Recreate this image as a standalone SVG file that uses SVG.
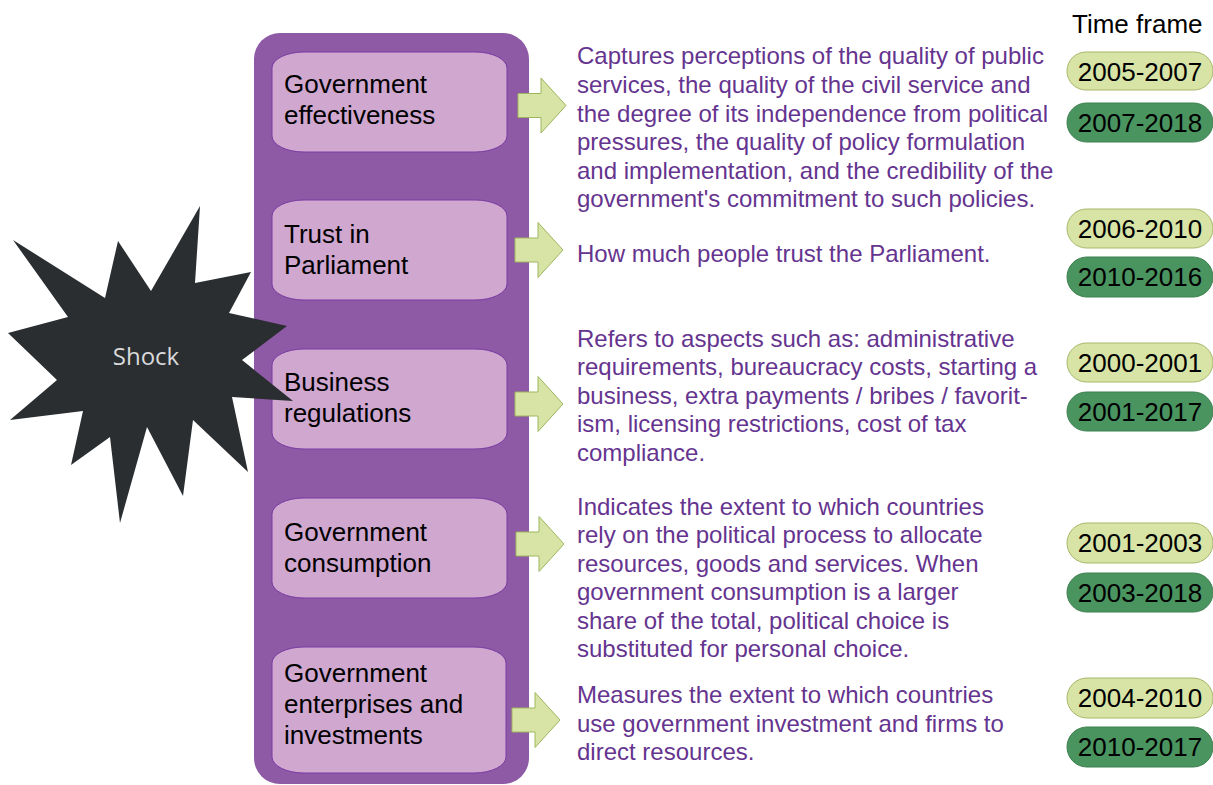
<svg xmlns="http://www.w3.org/2000/svg" width="1213" height="785" viewBox="0 0 1213 785">
  <style>
    .frame { fill: #8e5aa6; }
    .box { fill: #cfa7cf; stroke: #7a3aa3; stroke-width: 1; }
    .lbl { font-family: "Liberation Sans", Arial, sans-serif; font-size: 26px; fill: #000; }
    .desc { font-family: "Liberation Sans", Arial, sans-serif; font-size: 24px; fill: #65348f; }
    .arrow { fill: #d7e4a5; stroke: #9db65c; stroke-width: 1; }
    .pill-l { fill: #d7e4a6; stroke: #a7b769; stroke-width: 1; }
    .pill-d { fill: #4a9460; stroke: #3e8050; stroke-width: 1; }
    .pt { font-family: "Liberation Sans", Arial, sans-serif; font-size: 26px; fill: #000; text-anchor: middle; }
    .star { fill: #2a2e31; }
    .shock { font-family: "Open Sans", "Noto Sans", sans-serif; font-size: 24px; fill: #d9d9d9; text-anchor: middle; }
  </style>
  <defs>
    <!-- block arrow, origin at shaft start / vertical centre -->
    <path id="blockArrow" d="M0,-12 H23 V-27.5 L48,0 L23,27.5 V12 H0 Z"/>
  </defs>

  <!-- purple backing panel -->
  <rect class="frame" x="254" y="33" width="275" height="751" rx="26" ry="26"/>

  <g id="node-effectiveness">
    <rect class="box" x="272" y="52" width="235" height="100" rx="32" ry="16"/>
    <text class="lbl" x="284" y="93">Government</text>
    <text class="lbl" x="284" y="124">effectiveness</text>
  </g>
  <g id="node-trust">
    <rect class="box" x="272" y="200" width="235" height="100" rx="32" ry="16"/>
    <text class="lbl" x="284" y="243">Trust in</text>
    <text class="lbl" x="284" y="274">Parliament</text>
  </g>
  <g id="node-business">
    <rect class="box" x="272" y="349" width="235" height="100" rx="32" ry="16"/>
    <text class="lbl" x="284" y="391">Business</text>
    <text class="lbl" x="284" y="422">regulations</text>
  </g>
  <g id="node-consumption">
    <rect class="box" x="272" y="498" width="235" height="100" rx="32" ry="16"/>
    <text class="lbl" x="284" y="541">Government</text>
    <text class="lbl" x="284" y="572">consumption</text>
  </g>
  <g id="node-enterprises">
    <rect class="box" x="272" y="647" width="234" height="126" rx="32" ry="16"/>
    <text class="lbl" x="284" y="682">Government</text>
    <text class="lbl" x="284" y="713">enterprises and</text>
    <text class="lbl" x="284" y="744">investments</text>
  </g>

  <g id="connectors">
    <use href="#blockArrow" class="arrow" x="518" y="105.5"/>
    <use href="#blockArrow" class="arrow" x="515" y="250"/>
    <use href="#blockArrow" class="arrow" x="515" y="404"/>
    <use href="#blockArrow" class="arrow" x="516" y="544"/>
    <use href="#blockArrow" class="arrow" x="512" y="720"/>
  </g>

  <g id="desc-effectiveness" class="desc">
    <text x="577" y="64">Captures perceptions of the quality of public</text>
    <text x="577" y="93">services, the quality of the civil service and</text>
    <text x="577" y="122">the degree of its independence from political</text>
    <text x="577" y="150">pressures, the quality of policy formulation</text>
    <text x="577" y="179">and implementation, and the credibility of the</text>
    <text x="577" y="207">government's commitment to such policies.</text>
  </g>
  <g id="desc-trust" class="desc">
    <text x="577" y="262">How much people trust the Parliament.</text>
  </g>
  <g id="desc-business" class="desc">
    <text x="577" y="347">Refers to aspects such as: administrative</text>
    <text x="577" y="375">requirements, bureaucracy costs, starting a</text>
    <text x="577" y="404">business, extra payments / bribes / favorit-</text>
    <text x="577" y="432">ism, licensing restrictions, cost of tax</text>
    <text x="577" y="461">compliance.</text>
  </g>
  <g id="desc-consumption" class="desc">
    <text x="577" y="515">Indicates the extent to which countries</text>
    <text x="577" y="543">rely on the political process to allocate</text>
    <text x="577" y="572">resources, goods and services. When</text>
    <text x="577" y="600">government consumption is a larger</text>
    <text x="577" y="629">share of the total, political choice is</text>
    <text x="577" y="657">substituted for personal choice.</text>
  </g>
  <g id="desc-enterprises" class="desc">
    <text x="577" y="703">Measures the extent to which countries</text>
    <text x="577" y="732">use government investment and firms to</text>
    <text x="577" y="760">direct resources.</text>
  </g>

  <g id="timeframe">
    <text x="1072" y="33" style="font-family:'Liberation Sans', Arial, sans-serif;font-size:26px;fill:#000">Time frame</text>
    <rect class="pill-l" x="1067" y="52" width="146" height="38" rx="19"/>
    <text class="pt" x="1140" y="80.5">2005-2007</text>
    <rect class="pill-d" x="1067" y="103" width="146" height="39" rx="19.5"/>
    <text class="pt" x="1140" y="131.5">2007-2018</text>
    <rect class="pill-l" x="1067" y="209" width="146" height="39" rx="19.5"/>
    <text class="pt" x="1140" y="237.5">2006-2010</text>
    <rect class="pill-d" x="1067" y="257" width="146" height="40" rx="20"/>
    <text class="pt" x="1140" y="286">2010-2016</text>
    <rect class="pill-l" x="1067" y="343" width="146" height="39" rx="19.5"/>
    <text class="pt" x="1140" y="372">2000-2001</text>
    <rect class="pill-d" x="1067" y="392" width="146" height="39" rx="19.5"/>
    <text class="pt" x="1140" y="421">2001-2017</text>
    <rect class="pill-l" x="1067" y="523" width="146" height="40" rx="20"/>
    <text class="pt" x="1140" y="552">2001-2003</text>
    <rect class="pill-d" x="1067" y="573" width="146" height="39" rx="19.5"/>
    <text class="pt" x="1140" y="601.5">2003-2018</text>
    <rect class="pill-l" x="1067" y="678" width="146" height="40" rx="20"/>
    <text class="pt" x="1140" y="707">2004-2010</text>
    <rect class="pill-d" x="1067" y="727" width="146" height="40" rx="20"/>
    <text class="pt" x="1140" y="756">2010-2017</text>
  </g>

  <g id="node-shock">
    <polygon class="star" points="200,206 195,283 251,272 229,313 287,326 242,360 293,401 232,397 248,472 193,420 183,496 147,427 120,523 110,437 71,465 83,411 10,420 57,380 8,333 68,317 13,240 105,298 118,241 151,291"/>
    <text class="shock" x="146" y="365">Shock</text>
  </g>
</svg>
